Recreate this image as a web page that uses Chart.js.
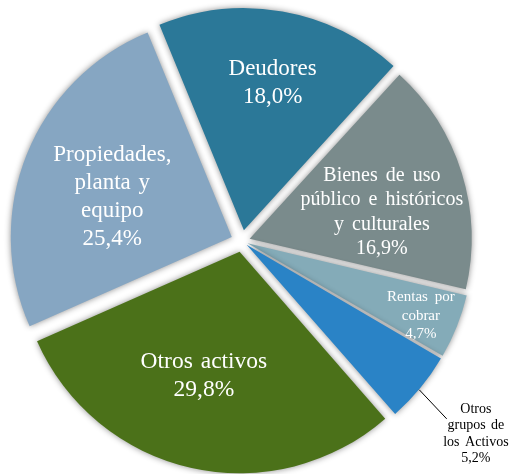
<!DOCTYPE html>
<html>
<head>
<meta charset="utf-8">
<script src="https://cdn.jsdelivr.net/npm/chart.js@4/dist/chart.umd.min.js"></script>
<style>
  html, body { margin: 0; padding: 0; background: #ffffff; }
  #wrap { width: 511px; height: 474px; position: relative; }
</style>
</head>
<body>
<div id="wrap"><canvas id="c" width="511" height="474"></canvas></div>
<script>
// ---- data ----
const categories = [
  "Deudores",
  "Bienes de uso público e históricos y culturales",
  "Rentas por cobrar",
  "Otros grupos de los Activos",
  "Otros activos",
  "Propiedades, planta y equipo"
];
const values = [18.0, 16.9, 4.7, 5.2, 29.8, 25.4];

// ---- styles (not data) ----
const colors = ["#2B7898", "#7A8B8C", "#84ABB8", "#2A83C6", "#4B7119", "#86A6C2"];
const offsets = [44, 32, 24, 24, 44, 44];
const labelLines = [
  ["Deudores"],
  ["Bienes de uso", "público e históricos", "y culturales"],
  ["Rentas por", "cobrar"],
  ["Otros", "grupos de", "los Activos"],
  ["Otros activos"],
  ["Propiedades,", "planta y", "equipo"]
];
// [radial fraction, angle delta (deg), font px, line height, color, outside, word spacing px]
const labelLayout = [
  [0.68, 1, 23, 28, "#ffffff", false, 2],
  [0.61, 6, 20, 24.5, "#ffffff", false, 3],
  [0.85, 1, 15, 18.5, "#ffffff", false, 3],
  [1.345, 0, 14, 16.5, "#000000", true, 2],
  [0.585, 3.5, 23.5, 28.5, "#ffffff", false, 2],
  [0.57, -3.4, 23, 28, "#ffffff", false, 2]
];

function fmtPct(v) { return v.toFixed(1).replace(".", ",") + "%"; }

const shadowPlugin = {
  id: "shadow",
  beforeDatasetsDraw(chart) {
    const ctx = chart.ctx;
    ctx.save();
    ctx.shadowColor = "rgba(0,0,0,0.45)";
    ctx.shadowBlur = 6;
    ctx.shadowOffsetX = 0;
    ctx.shadowOffsetY = 0;
  },
  afterDatasetsDraw(chart) {
    chart.ctx.restore();
  }
};

const labelPlugin = {
  id: "sliceLabels",
  afterDatasetsDraw(chart) {
    const ctx = chart.ctx;
    const meta = chart.getDatasetMeta(0);
    meta.data.forEach((el, i) => {
      const p = el.getProps(["x", "y", "startAngle", "endAngle", "outerRadius"], true);
      const mid = (p.startAngle + p.endAngle) / 2;
      const t = offsets[i] / 4;
      const ax = p.x + Math.cos(mid) * t;
      const ay = p.y + Math.sin(mid) * t;
      const [frac, dDeg, fs, lh, col, outside, ws] = labelLayout[i];
      const R = p.outerRadius;
      const ang = mid + dDeg * Math.PI / 180;
      const cx = ax + Math.cos(ang) * frac * R;
      const cy = ay + Math.sin(ang) * frac * R;
      ctx.save();
      if (outside) {
        const a1 = mid + 0.5 * Math.PI / 180, a2 = mid + 1.5 * Math.PI / 180;
        ctx.strokeStyle = "#000000";
        ctx.lineWidth = 1;
        ctx.beginPath();
        ctx.moveTo(ax + Math.cos(a1) * 1.02 * R, ay + Math.sin(a1) * 1.02 * R);
        ctx.lineTo(ax + Math.cos(a2) * 1.2 * R, ay + Math.sin(a2) * 1.2 * R);
        ctx.stroke();
      }
      const lines = labelLines[i].concat([fmtPct(values[i])]);
      ctx.fillStyle = col;
      ctx.font = fs + "px 'Liberation Serif', 'Times New Roman', serif";
      if ("wordSpacing" in ctx) ctx.wordSpacing = ws + "px";
      ctx.textAlign = "center";
      ctx.textBaseline = "middle";
      const top = cy - (lines.length - 1) * lh / 2;
      lines.forEach((ln, k) => ctx.fillText(ln, cx, top + k * lh));
      ctx.restore();
    });
  }
};

new Chart(document.getElementById("c"), {
  type: "pie",
  data: {
    labels: categories,
    datasets: [{
      data: values,
      backgroundColor: colors,
      borderWidth: 0,
      offset: offsets,
      hoverOffset: 0,
      clip: false
    }]
  },
  options: {
    responsive: false,
    animation: false,
    rotation: -22.4,
    radius: 221,
    layout: { padding: { left: 0, right: 27, top: 8, bottom: 0 } },
    plugins: {
      legend: { display: false },
      tooltip: { enabled: false },
      title: { display: false }
    },
    events: []
  },
  plugins: [shadowPlugin, labelPlugin]
});
</script>
</body>
</html>
